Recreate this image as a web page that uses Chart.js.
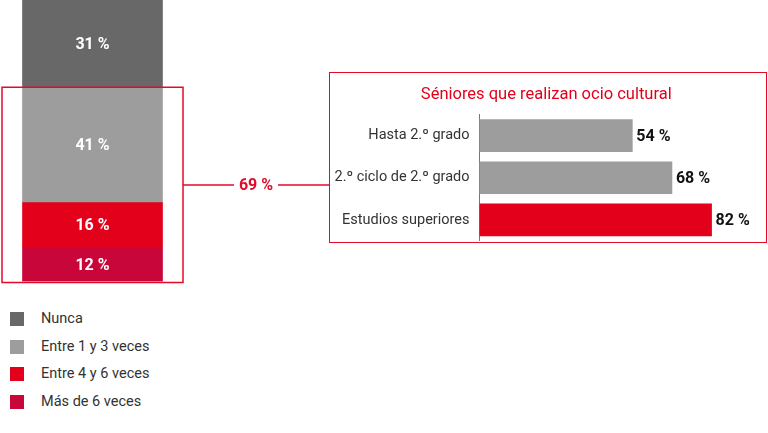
<!DOCTYPE html>
<html>
<head>
<meta charset="utf-8">
<script src="https://cdn.jsdelivr.net/npm/chart.js@4"></script>
<style>
  html, body { margin: 0; padding: 0; background: #fff; }
  body { width: 768px; height: 433px; position: relative; overflow: hidden; font-family: Roboto, sans-serif; }
  #freqChart { position: absolute; left: 0; top: 0; }
  #box { position: absolute; left: 329px; top: 72px; width: 438px; height: 171px; box-sizing: border-box; border: 1.5px solid #e30a2a; }
  #ocioChart { display: block; }
  #legend { position: absolute; left: 9px; top: 309px; }
  #legend div { height: 27.5px; line-height: 20px; font-size: 14.5px; color: #333; position: relative; padding-left: 32px; }
  #legend span { position: absolute; left: 1px; top: 3px; width: 14px; height: 14px; }
</style>
</head>
<body>
<canvas id="freqChart" width="330" height="290"></canvas>
<div id="box"><canvas id="ocioChart" width="435" height="168"></canvas></div>
<div id="legend"></div>
<script>
// Frecuencia (orden de la leyenda, de arriba a abajo)
const freqLabels = ["Nunca", "Entre 1 y 3 veces", "Entre 4 y 6 veces", "Más de 6 veces"];
const freqValues = [31, 41, 16, 12];
const freqColors = ["#686868", "#9d9d9d", "#e2001a", "#c8063a"];

// Séniores que realizan ocio cultural
const ocioLabels = ["Hasta 2.º grado", "2.º ciclo de 2.º grado", "Estudios superiores"];
const ocioValues = [54, 68, 82];
const ocioColors = ["#9d9d9d", "#9d9d9d", "#e2001a"];

const red = "#e30a2a";

// leyenda
const legend = document.getElementById("legend");
freqLabels.forEach(function (name, i) {
  const row = document.createElement("div");
  row.innerHTML = '<span style="background:' + freqColors[i] + '"></span>' + name;
  legend.appendChild(row);
});

// dibuja % dentro de cada segmento + el recuadro y el conector
const segmentLabels = {
  id: "segmentLabels",
  afterDatasetsDraw(chart) {
    const ctx = chart.ctx;
    ctx.save();
    ctx.fillStyle = "#fff";
    ctx.font = "bold 16px Roboto, sans-serif";
    ctx.textAlign = "center";
    ctx.textBaseline = "middle";
    chart.data.datasets.forEach(function (ds, i) {
      chart.getDatasetMeta(i).data.forEach(function (bar, j) {
        const yMid = (bar.y + bar.base) / 2;
        ctx.fillText(ds.data[j] + " %", bar.x, yMid + 1);
      });
    });

    // recuadro alrededor de los que sí realizan ocio
    const yScale = chart.scales.y;
    const practica = freqValues.slice(1).reduce((a, b) => a + b, 0);
    const top = yScale.getPixelForValue(practica);
    const bottom = yScale.getPixelForValue(0) + 1;
    const left = chart.chartArea.left;
    const right = chart.chartArea.right;
    ctx.strokeStyle = red;
    ctx.lineWidth = 1.5;
    ctx.strokeRect(left, top, right - left, bottom - top);

    const midY = (top + bottom) / 2;
    ctx.beginPath();
    ctx.moveTo(right, midY);
    ctx.lineTo(234, midY);
    ctx.moveTo(278, midY);
    ctx.lineTo(chart.width, midY);
    ctx.stroke();
    ctx.fillStyle = red;
    ctx.font = "bold 16px Roboto, sans-serif";
    ctx.fillText(practica + " %", 256, midY + 1);
    ctx.restore();
  }
};

new Chart(document.getElementById("freqChart"), {
  type: "bar",
  data: {
    labels: [""],
    datasets: freqLabels.map(function (name, i) {
      return { label: name, data: [freqValues[i]], backgroundColor: freqColors[i], barThickness: 140 };
    }).reverse()
  },
  options: {
    responsive: false,
    animation: false,
    layout: { padding: { left: 2, right: 147, top: 0, bottom: 8.5 } },
    scales: {
      x: { stacked: true, display: false },
      y: { stacked: true, display: false, min: 0, max: 100 }
    },
    plugins: { legend: { display: false }, tooltip: { enabled: false } }
  },
  plugins: [segmentLabels]
});

// valores al final de cada barra
const valueLabels = {
  id: "valueLabels",
  afterDatasetsDraw(chart) {
    const ctx = chart.ctx;
    ctx.save();
    ctx.fillStyle = "#111";
    ctx.font = "bold 16px Roboto, sans-serif";
    ctx.textAlign = "left";
    ctx.textBaseline = "middle";
    chart.getDatasetMeta(0).data.forEach(function (bar, j) {
      ctx.fillText(ocioValues[j] + " %", bar.x + 4, bar.y + 1);
    });
    ctx.restore();
  }
};

new Chart(document.getElementById("ocioChart"), {
  type: "bar",
  data: {
    labels: ocioLabels,
    datasets: [{ data: ocioValues, backgroundColor: ocioColors, barThickness: 32 }]
  },
  options: {
    indexAxis: "y",
    responsive: false,
    animation: false,
    layout: { padding: { left: 0, right: 2.5, top: 0, bottom: 0 } },
    scales: {
      x: { display: false, min: 0, max: 100 },
      y: {
        grid: { display: false, drawTicks: false },
        border: { display: true, color: "#777", width: 1 },
        ticks: { color: "#333", padding: 10, font: { family: "Roboto, sans-serif", size: 14.5 } },
        afterFit: function (scale) {
          scale.width = 149.5;
          // el eje llega hasta el borde inferior del recuadro
          scale.paddingTop = 0;
          scale.paddingBottom = 0;
        }
      }
    },
    plugins: {
      legend: { display: false },
      tooltip: { enabled: false },
      title: {
        display: true,
        text: "Séniores que realizan ocio cultural",
        color: "#e2001a",
        font: { family: "Roboto, sans-serif", size: 16.5, weight: "normal", lineHeight: 1.2 },
        padding: { top: 12, bottom: 9.7 }
      }
    }
  },
  plugins: [valueLabels]
});
</script>
</body>
</html>
